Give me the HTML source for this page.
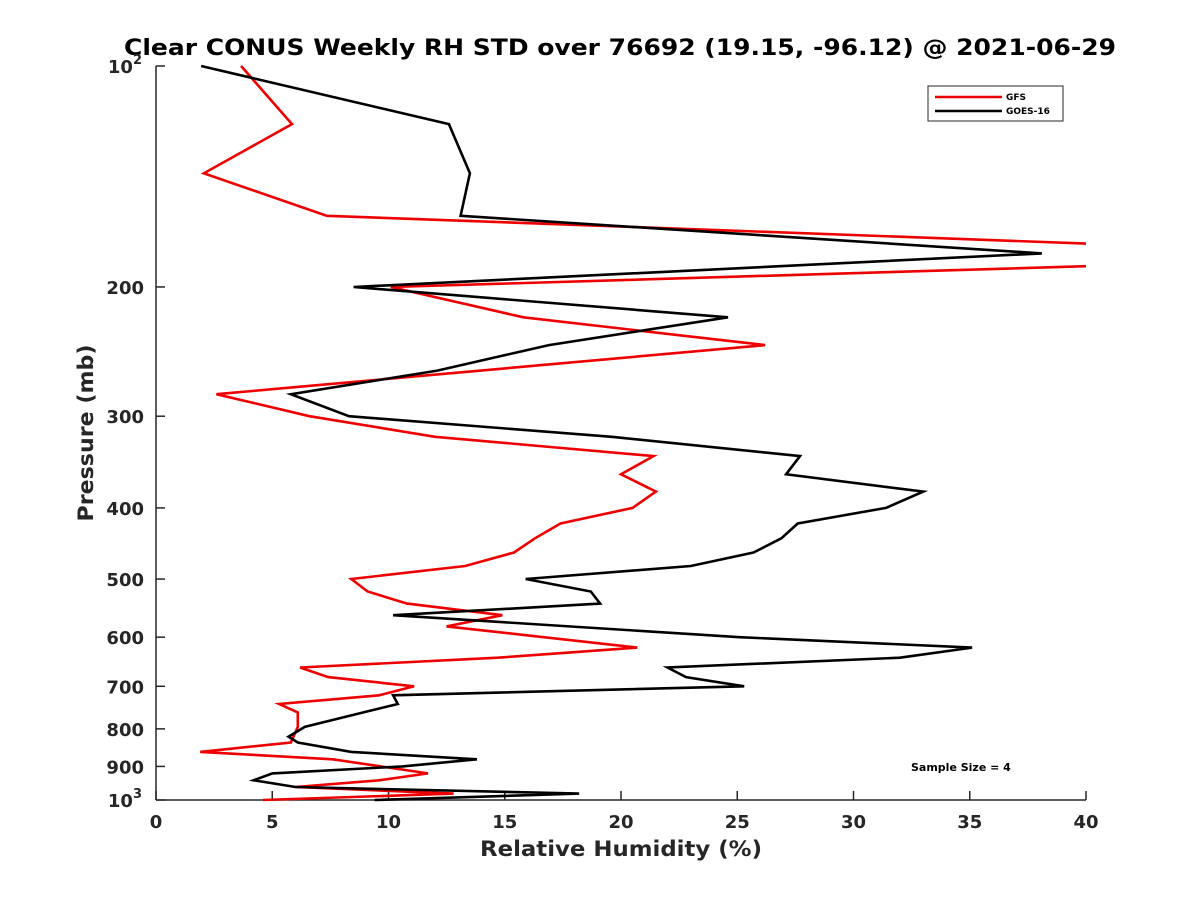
<!DOCTYPE html>
<html><head><meta charset="utf-8"><style>
body{margin:0;background:#fff}
svg{display:block;font-family:"DejaVu Sans","Liberation Sans",sans-serif;font-weight:bold}
</style></head><body>
<svg id="chart" width="1200" height="900">
<text x="620" y="55" text-anchor="middle" font-size="22" textLength="992" lengthAdjust="spacingAndGlyphs" fill="#000">Clear CONUS Weekly RH STD over 76692 (19.15, -96.12) @ 2021-06-29</text>
<text x="621" y="856" text-anchor="middle" font-size="21" textLength="282" lengthAdjust="spacingAndGlyphs" fill="#262626">Relative Humidity (%)</text>
<text transform="translate(93,433) rotate(-90)" text-anchor="middle" font-size="21" textLength="177" lengthAdjust="spacingAndGlyphs" fill="#262626">Pressure (mb)</text>
<defs><clipPath id="clip"><rect x="156" y="60" width="930" height="745"/></clipPath></defs>
<g id="axes"></g>
<g id="series" clip-path="url(#clip)"></g>
<g>
<rect x="928" y="86" width="135" height="35" fill="#fff" stroke="#262626" stroke-width="1"/>
<line x1="935" y1="97" x2="1002" y2="97" stroke="#e00" stroke-width="2.5"/>
<text x="1006" y="100" font-size="9" fill="#000">GFS</text>
<line x1="935" y1="111" x2="1002" y2="111" stroke="#000" stroke-width="2.5"/>
<text x="1006" y="114" font-size="9" fill="#000">GOES-16</text>
</g>
<text x="911" y="771" font-size="11" fill="#000">Sample Size = 4</text>
</svg>
<script>
const xTicks=[0,5,10,15,20,25,30,35,40];
const yTicks=[100,200,300,400,500,600,700,800,900,1000];
const yTickLabels=["","200","300","400","500","600","700","800","900",""];
const goesP=[100,120,140,160,180,200,220,240,260,280,300,320,340,360,380,400,420,440,460,480,500,520,540,560,600,620,640,660,680,700,720,740,760,795,820,835,860,880,900,920,940,960,980,1000];
const goesV=[1.94,12.6,13.5,13.1,38.1,8.5,24.6,16.9,12.1,5.8,8.3,19.6,27.7,27.1,33.0,31.4,27.6,26.9,25.7,23.0,15.9,18.7,19.1,10.2,25.1,35.1,32.0,22.0,22.8,25.3,10.2,10.4,8.9,6.4,5.7,6.1,8.4,13.8,10.6,5.0,4.2,6.0,18.2,9.4];
const gfsP=[100,120,140,160,175,187,200,220,240,280,300,320,340,360,380,400,420,440,460,480,500,520,540,560,580,620,640,660,680,700,720,740,760,795,835,860,880,920,940,960,980,1000];
const gfsV=[3.66,5.85,2.06,7.35,41,41,10.1,15.8,26.2,2.6,6.6,12.0,21.4,20.0,21.5,20.5,17.4,16.3,15.4,13.3,8.4,9.1,10.8,14.9,12.5,20.7,14.7,6.2,7.4,11.1,9.6,5.3,6.1,6.1,5.8,1.9,7.6,11.7,9.6,6.0,12.8,4.6];
const L=156,R=1086,T=66,B=800;
const xs=v=>L+(v-0)/(40-0)*(R-L);
const ys=p=>T+(Math.log10(p)-2)*(B-T);
const NS="http://www.w3.org/2000/svg";
function mk(t,a,parent){const e=document.createElementNS(NS,t);for(const k in a)e.setAttribute(k,a[k]);parent.appendChild(e);return e;}
const ax=document.getElementById('axes');
const xl=mk('line',{x1:L,y1:B,x2:R,y2:B,stroke:'#262626','stroke-width':1.5},ax);


const yl=mk('line',{x1:L,y1:T,x2:L,y2:B,stroke:'#262626','stroke-width':1.5},ax);


xTicks.forEach(v=>{
  const x=xs(v);
  mk('line',{x1:x,y1:B,x2:x,y2:B-9,stroke:'#262626','stroke-width':1.5},ax);
  const t=mk('text',{x:x,y:B+28,'text-anchor':'middle','font-size':18,fill:'#262626'},ax);
  t.textContent=v;
  
  
});
yTicks.forEach((p,i)=>{
  const y=ys(p);
  mk('line',{x1:L,y1:y,x2:L+9,y2:y,stroke:'#262626','stroke-width':1.5},ax);
  const t=mk('text',{x:L-12,y:y+7,'text-anchor':'end','font-size':18,fill:'#262626'},ax);
  if(yTickLabels[i]){t.textContent=yTickLabels[i];}
  else{const exp=p===100?'2':'3';t.innerHTML='10<tspan dy="-9" font-size="13">'+exp+'</tspan>';t.setAttribute('x',L-14);}
  
  
});
const sg=document.getElementById('series');
function line(P,V,color,name){
  const d=P.map((p,i)=>(i?'L':'M')+xs(V[i]).toFixed(1)+','+ys(p).toFixed(1)).join('');
  const e=mk('path',{d:d,fill:'none',stroke:color,'stroke-width':2.6,'stroke-linejoin':'miter'},sg);
  
  
}
line(gfsP,gfsV,'#e00','gfs-line');
line(goesP,goesV,'#000','goes16-line');
</script>
</body></html>
